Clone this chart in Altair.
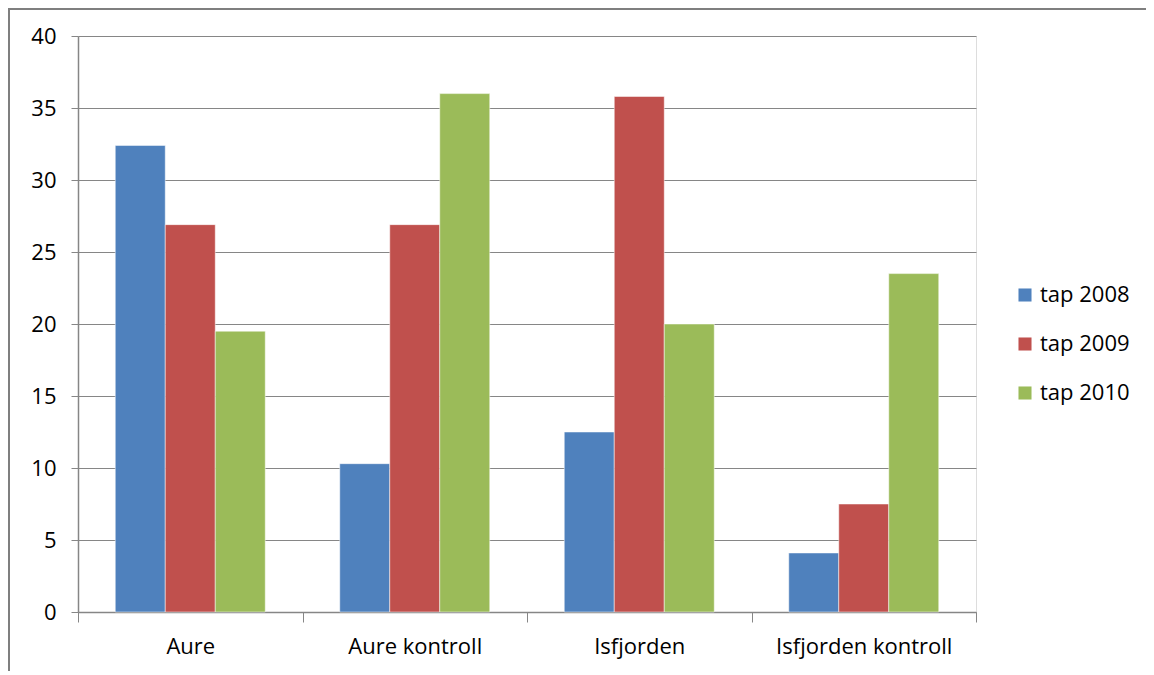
import altair as alt
import pandas as pd

categories = ["Aure", "Aure kontroll", "Isfjorden", "Isfjorden kontroll"]
series = ["tap 2008", "tap 2009", "tap 2010"]
tap2008 = [32.4, 10.3, 12.5, 4.1]
tap2009 = [26.9, 26.9, 35.8, 7.5]
tap2010 = [19.5, 36.0, 20.0, 23.5]
colors = ["#4F81BD", "#C0504D", "#9BBB59"]

rows = []
for s, vals in zip(series, [tap2008, tap2009, tap2010]):
    for c, v in zip(categories, vals):
        rows.append({"kategori": c, "serie": s, "verdi": v})
df = pd.DataFrame(rows)

FONT = "Open Sans"
FS = 22
W, H = 898, 576

bars = alt.Chart(df).mark_bar(stroke="white", strokeWidth=0.5).encode(
    x=alt.X("kategori:N", sort=categories, title=None,
            scale=alt.Scale(paddingInner=0, paddingOuter=0),
            axis=alt.Axis(labelAngle=0, labelFont=FONT, labelFontSize=FS, labelColor="#000000",
                          labelPadding=14, tickBand="extent", tickSize=10, tickColor="#868686",
                          domainColor="#868686", domainWidth=1.5, grid=False)),
    xOffset=alt.XOffset("serie:N", sort=series,
                        scale=alt.Scale(paddingInner=0, paddingOuter=0.745)),
    y=alt.Y("verdi:Q", title=None,
            scale=alt.Scale(domain=[0, 40], nice=False),
            axis=alt.Axis(values=list(range(0, 41, 5)), labelFont=FONT, labelFontSize=FS,
                          labelColor="#000000", labelPadding=15, tickSize=7, tickColor="#868686",
                          domainColor="#868686", domainWidth=1.5, gridColor="#868686",
                          gridWidth=1)),
    color=alt.Color("serie:N", sort=series, scale=alt.Scale(domain=series, range=colors),
                    legend=alt.Legend(title=None, orient="none", legendX=W + 38, legendY=248,
                                      symbolType="square", symbolSize=170, symbolStrokeWidth=0,
                                      labelFont=FONT, labelFontSize=FS, labelColor="#000000",
                                      rowPadding=27, labelOffset=4)),
)

frame_left = alt.Chart(df).mark_rule(color="#7f7f7f", strokeWidth=2).encode(
    x=alt.value(-69), y=alt.value(-28), y2=alt.value(H + 60))
frame_top = alt.Chart(df).mark_rule(color="#7f7f7f", strokeWidth=2).encode(
    x=alt.value(-69), x2=alt.value(W + 170), y=alt.value(-27))

chart = alt.layer(bars, frame_left, frame_top).properties(
    width=W, height=H,
    padding={"left": 70, "top": 28, "right": 170, "bottom": 59},
    autosize=alt.AutoSizeParams(type="none"),
).configure_view(stroke=None).configure(background="white")

chart.save("out.html", embed_options={"renderer": "svg", "actions": False})
